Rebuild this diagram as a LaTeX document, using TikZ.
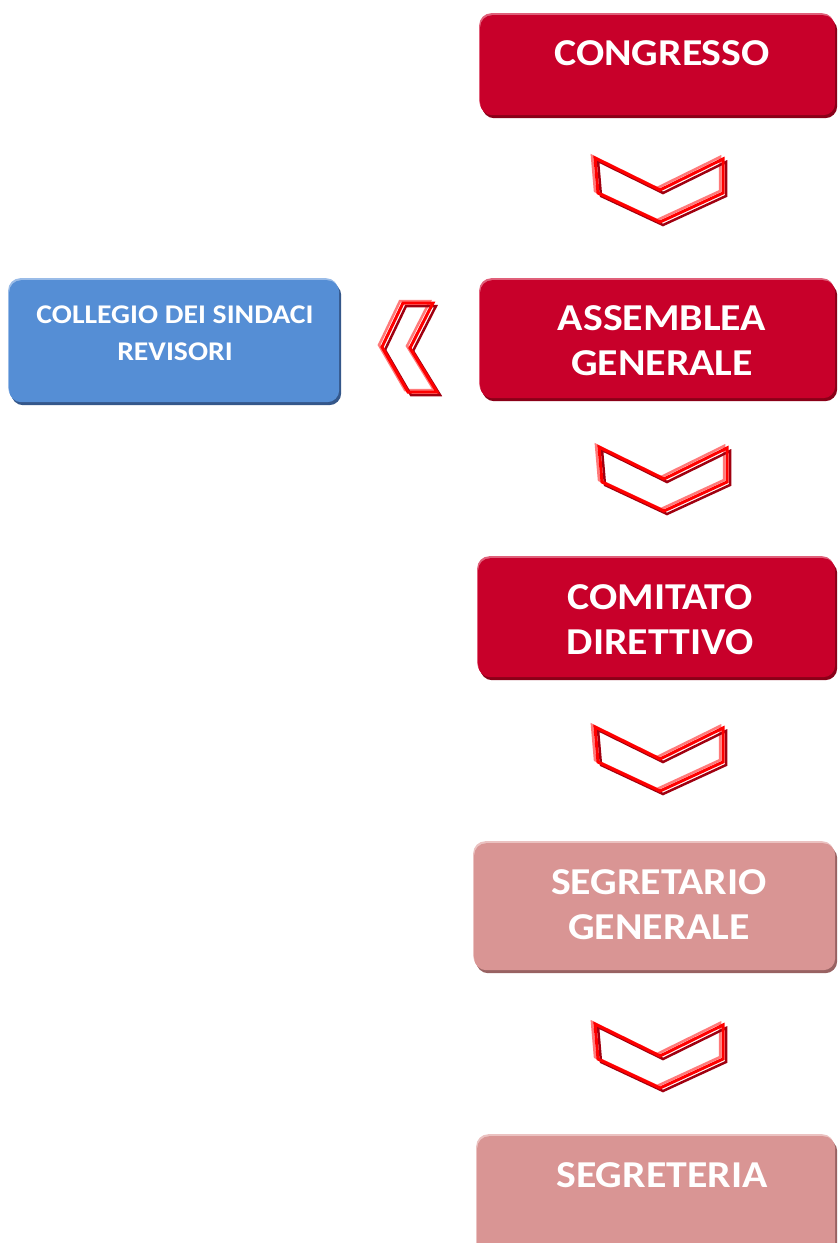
\documentclass[tikz,border=0pt]{standalone}
\usepackage{fontspec}
\setmainfont{Carlito}
\newfontfamily\boxfont[FakeStretch=1.1]{Carlito}
\usetikzlibrary{shadows}
\definecolor{redmain}{HTML}{C8002A}
\definecolor{redtop}{HTML}{E0607A}
\definecolor{reddark}{HTML}{8A0018}
\definecolor{pinkmain}{HTML}{D99594}
\definecolor{pinktop}{HTML}{EBC2C1}
\definecolor{pinkdark}{HTML}{986262}
\definecolor{bluemain}{HTML}{558ED5}
\definecolor{bluetop}{HTML}{9ABCE8}
\definecolor{bluedark}{HTML}{34578A}
\definecolor{chevred}{HTML}{FF0000}
\definecolor{chevlight}{HTML}{FF7A7A}
\definecolor{chevdark}{HTML}{A00010}
\begin{document}
\begin{tikzpicture}[x=1pt,y=-1pt,
  orgbox/.style n args={3}{draw=none, fill=#1, rounded corners=12pt, anchor=north west,
     general shadow={fill=#2, shadow xshift=-1pt, shadow yshift=2pt},
     general shadow={fill=#3, shadow xshift=2pt, shadow yshift=-3pt}},
  bigtext/.style={text=white, font=\boxfont\bfseries\fontsize{38}{45}\selectfont, align=center, inner sep=0pt},
  smalltext/.style={text=white, font=\boxfont\bfseries\fontsize{27}{37}\selectfont, align=center, inner sep=0pt},
  chevmain/.style={draw=chevred, line width=3pt, line join=miter},
  chevhi/.style={draw=chevlight, line width=2.5pt, line join=miter},
  chevlo/.style={draw=chevdark, line width=2.5pt, line join=miter}
]
\useasboundingbox (0,0) rectangle (838,1243);
\clip (0,0) rectangle (838,1243);

% boxes
\node[orgbox={redmain}{redtop}{reddark}, minimum width=355pt, minimum height=100pt] (congresso) at (480,15) {};
\node[bigtext] (tcongresso) at (662,53) {CONGRESSO};

\node[orgbox={redmain}{redtop}{reddark}, minimum width=355pt, minimum height=118pt] (assemblea) at (480,280) {};
\node[bigtext] (tassemblea) at (662,341) {ASSEMBLEA\\GENERALE};

\node[orgbox={redmain}{redtop}{reddark}, minimum width=357pt, minimum height=119pt] (comitato) at (478,558) {};
\node[bigtext] (tcomitato) at (660,620) {COMITATO\\DIRETTIVO};

\node[orgbox={pinkmain}{pinktop}{pinkdark}, minimum width=361pt, minimum height=127pt] (segretario) at (474,843) {};
\node[bigtext] (tsegretario) at (659,905) {SEGRETARIO\\GENERALE};

\node[orgbox={pinkmain}{pinktop}{pinkdark}, minimum width=358pt, minimum height=140pt] (segreteria) at (477,1136) {};
\node[bigtext] (tsegreteria) at (662,1175) {SEGRETERIA};

\node[orgbox={bluemain}{bluetop}{bluedark}, minimum width=330pt, minimum height=122pt] (collegio) at (9,280) {};
\node[smalltext] (tcollegio) at (175,333) {COLLEGIO DEI SINDACI\\REVISORI};

% down chevrons
\foreach \cx/\cy in {595/158, 599/447, 595/727, 595/1024}{
  \begin{scope}[shift={(\cx,\cy)}]
    \draw[chevhi] (-3,-2) -- (62,30) -- (125,-1) -- (125,33) -- (62,62) -- (0,33) -- cycle;
    \draw[chevlo] (3,3) -- (68,35) -- (131,4) -- (131,38) -- (68,67) -- (6,38) -- cycle;
    \draw[chevmain] (0,0) -- (65,32) -- (128,1) -- (128,35) -- (65,64) -- (3,35) -- cycle;
  \end{scope}
}

% left chevron
\draw[chevhi] (400,301) -- (430,301) -- (407,346) -- (434,390) -- (405,390) -- (379,345) -- cycle;
\draw[chevlo] (406,306) -- (436,306) -- (413,351) -- (440,395) -- (411,395) -- (385,350) -- cycle;
\draw[chevmain] (403,303) -- (433,303) -- (410,348) -- (437,392) -- (408,392) -- (382,347) -- cycle;
\end{tikzpicture}
\end{document}
